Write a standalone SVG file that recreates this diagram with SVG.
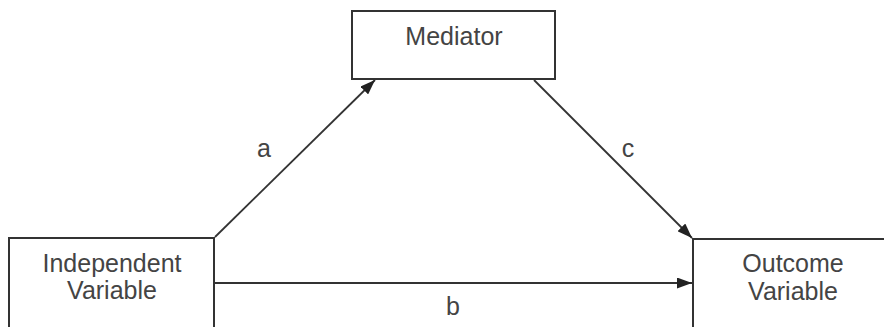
<svg xmlns="http://www.w3.org/2000/svg" width="884" height="327" viewBox="0 0 884 327">
  <style>
    .box { fill: #ffffff; stroke: #333333; stroke-width: 2; }
    .label { font-family: "Liberation Sans", Arial, sans-serif; font-size: 25px; fill: #444444; text-anchor: middle; }
    .edge { stroke: #333333; stroke-width: 1.8; fill: none; marker-end: url(#arrow); }
  </style>
  <defs>
    <marker id="arrow" viewBox="0 0 15 11" refX="15" refY="5.5" markerWidth="15" markerHeight="11" markerUnits="userSpaceOnUse" orient="auto">
      <path d="M0,0 L15,5.5 L0,11 Z" fill="#222222"/>
    </marker>
  </defs>
  <rect width="884" height="327" fill="#ffffff"/>

  <g id="mediator">
    <rect class="box" x="352" y="11" width="203" height="68"/>
    <text class="label" x="454" y="45">Mediator</text>
  </g>

  <g id="independent">
    <rect class="box" x="9" y="238" width="205" height="100"/>
    <text class="label" x="112" y="272">Independent</text>
    <text class="label" x="112" y="299">Variable</text>
  </g>

  <g id="outcome">
    <rect class="box" x="693" y="239" width="200" height="100"/>
    <text class="label" x="793" y="272">Outcome</text>
    <text class="label" x="793" y="300">Variable</text>
  </g>

  <g id="connectors">
    <line class="edge" x1="215" y1="237" x2="375" y2="80"/>
    <line class="edge" x1="534" y1="80" x2="692" y2="238"/>
    <line class="edge" x1="214" y1="283" x2="692" y2="283"/>
    <text class="label" x="264" y="157">a</text>
    <text class="label" x="628" y="157">c</text>
    <text class="label" x="453" y="315">b</text>
  </g>
</svg>
